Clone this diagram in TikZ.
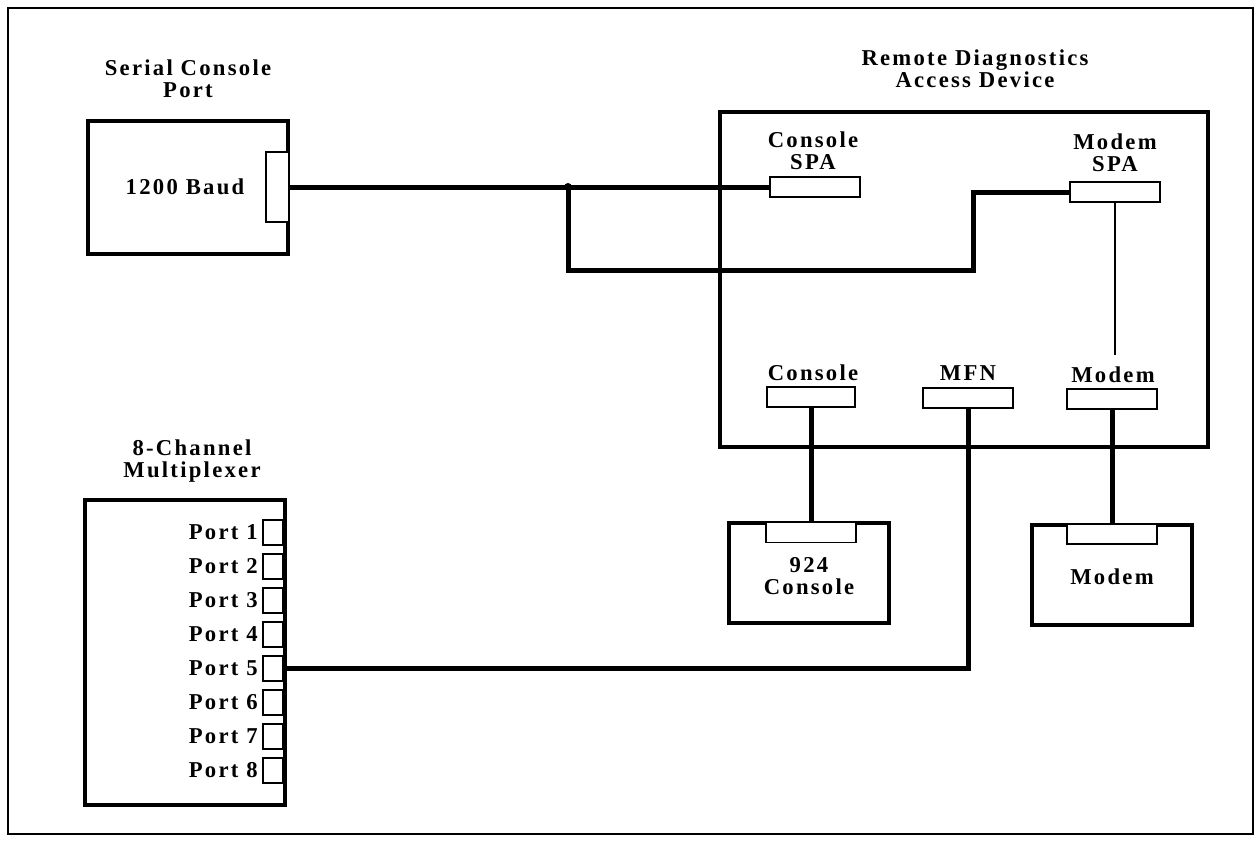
\documentclass[tikz,border=0pt]{standalone}
\usepackage{fontspec}
\setmainfont{Liberation Serif}[LetterSpace=10]
\begin{document}
\begin{tikzpicture}[x=0.75pt,y=-0.75pt,
  every node/.style={font=\bfseries\fontsize{17}{16.5}\selectfont, align=center},
  box/.style={draw, line width=3pt, inner sep=0pt},
  plug/.style={draw, fill=white, line width=1.2pt, inner sep=0pt},
  cable/.style={line width=3.75pt},
  wire/.style={line width=1.2pt},
  lbl/.style={inner sep=0pt}]
\useasboundingbox (0,0) rectangle (1257,840);
\draw[line width=1.5pt] (8,8) rectangle (1253,834);

% Serial console port
\node[box, minimum width=200*0.75pt, minimum height=133*0.75pt] (scp) at (188,187.5) {};
\node[lbl] (scpT) at (188,79) {Serial Console\\Port};
\node[lbl] (baud) at (185,187) {1200 Baud};
\node[plug, minimum width=23*0.75pt, minimum height=70*0.75pt] (scpc) at (277.5,187) {};

% Remote diagnostics access device
\node[box, minimum width=488*0.75pt, minimum height=335*0.75pt] (rdad) at (964,279.5) {};
\node[lbl] (rdadT) at (975,69) {Remote Diagnostics\\Access Device};
\node[plug, minimum width=90*0.75pt, minimum height=20*0.75pt] (cspa) at (815,187) {};
\node[lbl] (cspaT) at (813,151) {Console\\SPA};
\node[plug, minimum width=90*0.75pt, minimum height=20*0.75pt] (mspa) at (1115,192) {};
\node[lbl] (mspaT) at (1115,153) {Modem\\SPA};
\node[plug, minimum width=88*0.75pt, minimum height=20*0.75pt] (cons) at (811,397) {};
\node[lbl] (consT) at (813,373) {Console};
\node[plug, minimum width=90*0.75pt, minimum height=20*0.75pt] (mfn) at (968,398) {};
\node[lbl] (mfnT) at (968,373) {MFN};
\node[plug, minimum width=90*0.75pt, minimum height=20*0.75pt] (mdm) at (1112,399) {};
\node[lbl] (mdmT) at (1113,375) {Modem};

% 924 console
\node[box, minimum width=160*0.75pt, minimum height=100*0.75pt] (c924) at (809,573) {};
\node[plug, minimum width=90*0.75pt, minimum height=20*0.75pt] (c924c) at (811,532.5) {};
\node[lbl] (c924T) at (809,576) {924\\Console};

% Modem
\node[box, minimum width=160*0.75pt, minimum height=100*0.75pt] (mbox) at (1112,575) {};
\node[plug, minimum width=90*0.75pt, minimum height=20*0.75pt] (mboxc) at (1112,534) {};
\node[lbl] (mboxT) at (1112,577) {Modem};

% Multiplexer
\node[box, minimum width=200*0.75pt, minimum height=305*0.75pt] (mux) at (185,652.5) {};
\node[lbl] (muxT) at (192,461) {8-Channel\\Multiplexer};
\foreach \i in {1,...,8} {
  \node[plug, minimum width=20*0.75pt, minimum height=25*0.75pt] (p\i) at (273,{532.5+34*(\i-1)}) {};
  \node[lbl, anchor=east] (pl\i) at (258,{532.5+34*(\i-1)}) {Port \i};
}

% Cables
\coordinate (J) at (568,187);
\coordinate (K) at (973,270);
\coordinate (mspaEnd) at (1115,355);
\draw[cable] (scpc.east) -- (cspa.west);
\draw[cable] (J) |- (K) |- (mspa.west);
\fill (J) circle (3pt);
\draw[wire] (mspa.south) -- (mspaEnd);
\draw[cable] (cons.south) -- (c924c.north);
\draw[cable] (mfn.south) |- (p5.east);
\draw[cable] (mdm.south) -- (mboxc.north);
\end{tikzpicture}
\end{document}
